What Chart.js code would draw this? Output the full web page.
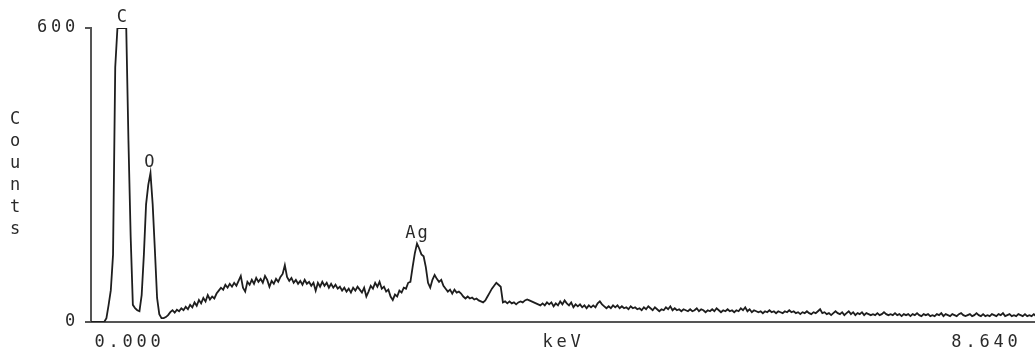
<!DOCTYPE html>
<html>
<head>
<meta charset="utf-8">
<script src="https://cdn.jsdelivr.net/npm/chart.js@4/dist/chart.umd.min.js"></script>
<style>
  html, body { margin: 0; padding: 0; background: #fff; overflow: hidden; }
  canvas { display: block; }
</style>
</head>
<body>
<canvas id="spectrum" width="1035" height="354"></canvas>
<script>
// EDS spectrum: counts per 20 eV channel, starting at 0 keV
const channelWidth = 0.02; // keV
const counts = [
  0, 0, 0, 0, 0, 0, 0, 8, 35, 65,
  137, 520, 600, 600, 600, 600, 600, 370, 175, 35,
  28, 24, 22, 55, 137, 240, 280, 304, 240, 147,
  49, 16, 8, 8, 10, 14, 20, 24, 19, 25,
  22, 28, 24, 31, 26, 35, 30, 40, 33, 45,
  38, 49, 42, 55, 46, 52, 48, 58, 64, 70,
  66, 76, 70, 78, 72, 80, 74, 84, 94, 70,
  62, 82, 76, 86, 78, 90, 82, 88, 80, 94,
  86, 72, 84, 78, 88, 82, 92, 98, 116, 92,
  84, 90, 80, 86, 78, 84, 76, 86, 78, 82,
  74, 80, 64, 80, 72, 82, 74, 80, 70, 78,
  70, 76, 68, 72, 64, 70, 62, 68, 60, 70,
  64, 72, 66, 60, 70, 52, 62, 74, 68, 80,
  72, 82, 68, 72, 62, 66, 52, 45, 56, 52,
  64, 60, 70, 68, 80, 82, 112, 140, 160, 150,
  138, 134, 112, 80, 70, 86, 96, 88, 82, 86,
  74, 68, 62, 66, 58, 66, 60, 62, 58, 52,
  48, 52, 48, 50, 46, 48, 44, 42, 40, 44,
  52, 60, 68, 74, 80, 76, 72, 40, 42, 38,
  42, 38, 40, 36, 40, 42, 40, 44, 46, 44,
  42, 40, 38, 36, 34, 38, 34, 40, 36, 40,
  32, 38, 34, 42, 36, 44, 38, 34, 40, 30,
  36, 32, 36, 30, 34, 28, 34, 30, 34, 30,
  38, 42, 36, 32, 28, 32, 28, 34, 30, 34,
  28, 32, 28, 30, 26, 32, 28, 30, 26, 28,
  24, 30, 26, 32, 28, 24, 30, 26, 22, 26,
  24, 30, 26, 32, 24, 28, 24, 26, 22, 26,
  24, 22, 26, 22, 24, 28, 22, 26, 24, 20,
  24, 22, 26, 22, 28, 24, 20, 24, 22, 26,
  22, 24, 20, 24, 22, 28, 24, 30, 22, 26,
  20, 24, 22, 20, 22, 18, 22, 20, 24, 20,
  22, 18, 22, 20, 18, 22, 20, 24, 20, 22,
  18, 20, 16, 20, 18, 22, 18, 16, 20, 18,
  22, 26, 18, 20, 16, 18, 14, 18, 22, 18,
  16, 20, 14, 18, 22, 16, 20, 14, 18, 16,
  20, 14, 18, 16, 14, 16, 14, 18, 14, 16,
  20, 16, 14, 16, 14, 18, 14, 16, 12, 16,
  14, 16, 12, 16, 14, 18, 14, 12, 16, 14,
  16, 12, 14, 12, 16, 14, 18, 12, 16, 14,
  12, 16, 14, 12, 16, 18, 14, 12, 14, 16,
  12, 14, 18, 14, 12, 16, 12, 14, 12, 16,
  14, 12, 16, 14, 18, 12, 14, 16, 12, 14,
  12, 16, 14, 12, 16, 12, 14, 12, 16, 12,
  14
];

const yTicks = [0, 600];
const xTickLabels = ['0.000', 'keV', '8.640'];
const xTickAt = [0.35, 4.29, 8.13];          // keV
const peakLabels = ['C', 'O', 'Ag'];
const peakEnergies = [0.281, 0.53, 2.955];    // keV
const axisTitle = 'Counts';

const TEXT = '#2a2a2a';
const AXIS = '#555';
const FONT = { family: '"DejaVu Sans Mono", monospace', size: 17 };
const SPACING = '3.8px';
const LABEL_SPACING = '2px';

const points = counts.map((c, i) => ({ x: i * channelWidth, y: c }));

const annotate = {
  id: 'annotate',
  beforeUpdate(chart) { chart.ctx.letterSpacing = SPACING; },
  beforeDraw(chart) { chart.ctx.letterSpacing = SPACING; },
  afterDatasetsDraw(chart) {
    const { ctx, chartArea, scales: { x, y } } = chart;
    ctx.save();
    ctx.font = `${FONT.size}px ${FONT.family}`;
    ctx.fillStyle = TEXT;
    ctx.textAlign = 'center';

    // element labels just above each line's highest channel
    ctx.letterSpacing = LABEL_SPACING;
    ctx.textBaseline = 'alphabetic';
    peakLabels.forEach((label, k) => {
      let top = 0;
      counts.forEach((c, i) => {
        if (Math.abs(i * channelWidth - peakEnergies[k]) <= 0.05) top = Math.max(top, c);
      });
      ctx.fillText(label, x.getPixelForValue(peakEnergies[k]) + 1, y.getPixelForValue(top) - 6);
    });

    // vertical axis title, one upright letter per line
    ctx.textBaseline = 'middle';
    const letters = [...axisTitle];
    const mid = (chartArea.top + chartArea.bottom) / 2;
    letters.forEach((ch, i) => {
      ctx.fillText(ch, 16, mid + (i - (letters.length - 1) / 2) * 22);
    });
    ctx.restore();
  }
};

new Chart(document.getElementById('spectrum'), {
  type: 'line',
  data: {
    datasets: [{
      data: points,
      borderColor: '#1e1e1e',
      borderWidth: 1.8,
      pointRadius: 0,
      tension: 0,
      fill: false
    }]
  },
  options: {
    responsive: false,
    animation: false,
    devicePixelRatio: 1,
    layout: { padding: { top: 28, left: 0, right: 0, bottom: 0 } },
    plugins: { legend: { display: false }, tooltip: { enabled: false } },
    scales: {
      x: {
        type: 'linear',
        min: 0,
        max: 8.571,
        afterBuildTicks: s => { s.ticks = xTickAt.map(v => ({ value: v })); },
        afterFit: s => { s.height = 32; },
        ticks: {
          autoSkip: false,
          maxRotation: 0,
          padding: 10,
          color: TEXT,
          font: FONT,
          callback: (v, i) => xTickLabels[i]
        },
        grid: { display: false, drawTicks: false },
        border: { display: true, color: AXIS, width: 2 }
      },
      y: {
        min: 0,
        max: 600,
        afterBuildTicks: s => { s.ticks = yTicks.map(v => ({ value: v })); },
        afterFit: s => { s.width = 91; },
        ticks: {
          padding: 6,
          color: TEXT,
          font: FONT,
          callback: v => String(v)
        },
        grid: { display: true, drawOnChartArea: false, drawTicks: true, tickLength: 6, color: AXIS, lineWidth: 2 },
        border: { display: true, color: AXIS, width: 2 }
      }
    }
  },
  plugins: [annotate]
});
</script>
</body>
</html>
